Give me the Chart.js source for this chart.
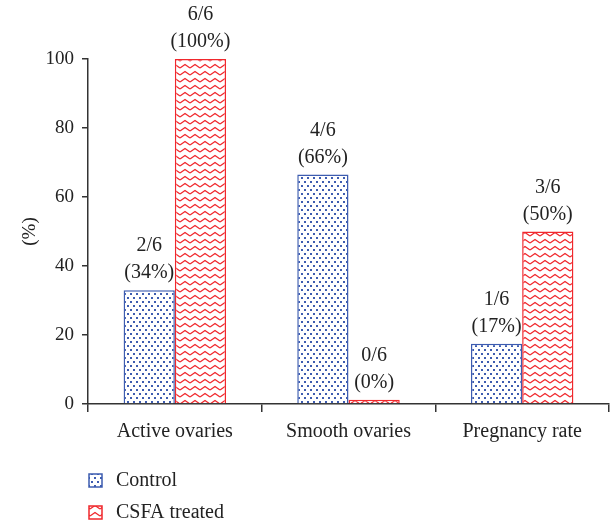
<!DOCTYPE html>
<html>
<head>
<meta charset="utf-8">
<script src="https://cdn.jsdelivr.net/npm/chart.js@4"></script>
<style>
  html, body { margin: 0; padding: 0; background: #fff; }
  #wrap { width: 611px; height: 522px; }
</style>
</head>
<body>
<div id="wrap"><canvas id="chart" width="611" height="522"></canvas></div>
<script>
// data
const categories = ['Active ovaries', 'Smooth ovaries', 'Pregnancy rate'];
const controlValues = [33, 66.5, 17.5];
const csfaValues = [100, 1.2, 50];
const controlLabels = [['2/6', '(34%)'], ['4/6', '(66%)'], ['1/6', '(17%)']];
const csfaLabels = [['6/6', '(100%)'], ['0/6', '(0%)'], ['3/6', '(50%)']];
const seriesNames = ['Control', 'CSFA treated'];

const BLUE = '#3d5cb0';
const RED = '#f0282d';
const FONT = '"Liberation Serif", "DejaVu Serif", serif';

// dotted fill for the control bars
function dotPattern() {
    const c = document.createElement('canvas');
    c.width = 6; c.height = 8;
    const g = c.getContext('2d');
    g.fillStyle = '#fff';
    g.fillRect(0, 0, 6, 8);
    g.fillStyle = BLUE;
    g.fillRect(1, 1, 2, 2);
    g.fillRect(4, 5, 2, 2);
    return g.createPattern(c, 'repeat');
}

// zigzag fill for the treated bars
function zigzagPattern() {
    const c = document.createElement('canvas');
    c.width = 10; c.height = 7;
    const g = c.getContext('2d');
    g.fillStyle = '#fff';
    g.fillRect(0, 0, 10, 7);
    g.strokeStyle = RED;
    g.lineWidth = 1.3;
    g.beginPath();
    g.moveTo(0, 5);
    g.lineTo(5, 1.5);
    g.lineTo(10, 5);
    g.stroke();
    return g.createPattern(c, 'repeat');
}

const barLabels = [controlLabels, csfaLabels];

// two-line labels above each bar
const valueLabelPlugin = {
    id: 'valueLabels',
    afterDatasetsDraw(chart) {
        const ctx = chart.ctx;
        ctx.save();
        ctx.font = '20px ' + FONT;
        ctx.fillStyle = '#222';
        ctx.textAlign = 'center';
        ctx.textBaseline = 'middle';
        chart.data.datasets.forEach((ds, di) => {
            chart.getDatasetMeta(di).data.forEach((bar, i) => {
                const lines = barLabels[di][i];
                ctx.fillText(lines[0], bar.x, bar.y - 44);
                ctx.fillText(lines[1], bar.x, bar.y - 17);
            });
        });
        ctx.restore();
    }
};

// vertical legend in the bottom-left corner
const sideLegendPlugin = {
    id: 'sideLegend',
    afterDraw(chart) {
        const ctx = chart.ctx;
        ctx.save();
        ctx.font = '20px ' + FONT;
        ctx.textBaseline = 'middle';
        chart.data.datasets.forEach((ds, i) => {
            const y = 481 + i * 32;
            ctx.fillStyle = ds.backgroundColor;
            ctx.fillRect(89, y - 7, 13, 13);
            ctx.strokeStyle = ds.borderColor;
            ctx.lineWidth = 1.5;
            ctx.strokeRect(89, y - 7, 13, 13);
            ctx.fillStyle = '#222';
            ctx.fillText(seriesNames[i], 116, y);
        });
        ctx.restore();
    }
};

new Chart(document.getElementById('chart'), {
    type: 'bar',
    data: {
        labels: categories,
        datasets: [
            {
                label: seriesNames[0],
                data: controlValues,
                backgroundColor: dotPattern(),
                borderColor: BLUE,
                borderWidth: 1.5
            },
            {
                label: seriesNames[1],
                data: csfaValues,
                backgroundColor: zigzagPattern(),
                borderColor: RED,
                borderWidth: 1.5
            }
        ]
    },
    options: {
        responsive: false,
        animation: false,
        layout: { padding: { top: 59, right: 2, bottom: 80, left: 0 } },
        categoryPercentage: 0.59,
        barPercentage: 1,
        plugins: {
            legend: { display: false },
            tooltip: { enabled: false }
        },
        scales: {
            x: {
                grid: { display: true, drawOnChartArea: false, drawTicks: true, tickLength: 8, color: '#333', lineWidth: 1.5 },
                border: { display: true, color: '#333', width: 1.5 },
                ticks: { color: '#222', font: { family: FONT, size: 20 }, padding: 8, maxRotation: 0 },
                afterFit(scale) { scale.height = 38; }
            },
            y: {
                min: 0,
                max: 100,
                ticks: { stepSize: 20, color: '#222', font: { family: FONT, size: 19 }, padding: 8 },
                grid: { display: true, drawOnChartArea: false, drawTicks: true, tickLength: 6, color: '#333', lineWidth: 1.5 },
                border: { display: true, color: '#333', width: 1.5 },
                title: { display: true, text: '(%)', color: '#222', font: { family: FONT, size: 19 }, padding: { top: 19, bottom: 0 } },
                afterFit(scale) { scale.width = 88; }
            }
        }
    },
    plugins: [valueLabelPlugin, sideLegendPlugin]
});
</script>
</body>
</html>
